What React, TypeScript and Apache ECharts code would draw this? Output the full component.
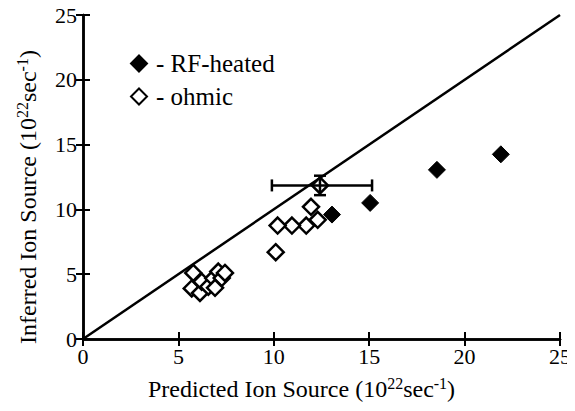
import React, { useEffect, useRef } from "react";
import * as echarts from "echarts";

const rfHeated: [number, number][] = [
  [13.05, 9.6],
  [15.05, 10.5],
  [18.55, 13.05],
  [21.9, 14.25],
];

const ohmic: [number, number][] = [
  [12.42, 11.85],
  [11.95, 10.2],
  [12.3, 9.2],
  [11.7, 8.75],
  [10.95, 8.75],
  [10.2, 8.75],
  [10.1, 6.7],
  [5.78, 5.1],
  [5.7, 3.9],
  [6.13, 3.55],
  [6.22, 4.42],
  [6.57, 4.04],
  [6.83, 4.68],
  [7.09, 5.2],
  [7.27, 4.7],
  [7.44, 5.1],
  [6.92, 3.95],
];

// error bar: [x, y, xLow, xHigh, yLow, yHigh]
const errorBars: number[][] = [[12.42, 11.85, 9.9, 15.15, 11.1, 12.6]];

const diagonal: [number, number][] = [
  [0, 0],
  [25, 25],
];

const ticks = [0, 5, 10, 15, 20, 25];

const FONT = "'Liberation Serif', 'Times New Roman', serif";

export default function App() {
  const ref = useRef<HTMLDivElement>(null);
  useEffect(() => {
    if (!ref.current) return;
    const chart = echarts.init(ref.current, undefined, { renderer: "svg" });
    const axisLine = { show: true, lineStyle: { color: "#000", width: 2.5 } };
    const axisTick = { show: true, inside: true, length: 7, lineStyle: { color: "#000", width: 2 } };
    const rich = {
      a: { fontFamily: FONT, fontSize: 24, color: "#000" },
      sup: { fontFamily: FONT, fontSize: 16, color: "#000", padding: [0, 0, 12, 0] },
    };
    const tickRich = { t: { fontFamily: FONT, fontSize: 22, color: "#000" } };
    chart.setOption({
      animation: false,
      backgroundColor: "#fff",
      grid: { left: 83, right: 15, top: 15, bottom: 72, containLabel: false },
      xAxis: [
        {
          type: "value",
          min: ticks[0],
          max: ticks[ticks.length - 1],
          interval: 5,
          axisLine,
          axisTick,
          splitLine: { show: false },
          axisLabel: {
            fontFamily: FONT,
            fontSize: 22,
            color: "#000",
            margin: 6,
            formatter: (v: number) => `{t|${v}}`,
            rich: tickRich,
          },
          name: "{a|Predicted Ion Source (10}{sup|22}{a|sec}{sup|-1}{a|)}",
          nameLocation: "middle",
          nameGap: 36,
          nameTextStyle: { rich, padding: [0, 40, 0, 0] },
        },
        {
          type: "value",
          position: "top",
          min: 0,
          max: 25,
          interval: 5,
          axisLine,
          axisTick,
          splitLine: { show: false },
          axisLabel: { show: false },
        },
      ],
      yAxis: [
        {
          type: "value",
          min: ticks[0],
          max: ticks[ticks.length - 1],
          interval: 5,
          axisLine,
          axisTick,
          splitLine: { show: false },
          axisLabel: {
            fontFamily: FONT,
            fontSize: 22,
            color: "#000",
            margin: 6,
            formatter: (v: number) => `{t|${v}}`,
            rich: tickRich,
          },
          name: "{a|Inferred Ion Source (10}{sup|22}{a|sec}{sup|-1}{a|)}",
          nameLocation: "middle",
          nameGap: 41,
          nameRotate: 90,
          nameTextStyle: { rich, padding: [0, 40, 0, 0] },
        },
        {
          type: "value",
          position: "right",
          min: 0,
          max: 25,
          interval: 5,
          axisLine,
          axisTick,
          splitLine: { show: false },
          axisLabel: { show: false },
        },
      ],
      legend: {
        orient: "vertical",
        left: 125,
        top: 46,
        itemWidth: 16,
        itemHeight: 16,
        itemGap: 8,
        formatter: "- {name}",
        textStyle: { fontFamily: FONT, fontSize: 25, color: "#000", padding: [0, 0, 0, 4] },
        data: [
          { name: "RF-heated", icon: "diamond" },
          { name: "ohmic", icon: "diamond" },
        ],
      },
      series: [
        {
          type: "line",
          data: diagonal,
          symbol: "none",
          lineStyle: { color: "#000", width: 2.5 },
          z: 1,
        },
        {
          name: "ohmic",
          type: "scatter",
          data: ohmic,
          symbol: "diamond",
          symbolSize: 16,
          itemStyle: { color: "#fff", borderColor: "#000", borderWidth: 2.5, opacity: 1 },
          z: 2,
        },
        {
          name: "RF-heated",
          type: "scatter",
          data: rfHeated,
          symbol: "diamond",
          symbolSize: 17,
          itemStyle: { color: "#000", borderColor: "#000", borderWidth: 1, opacity: 1 },
          z: 3,
        },
        {
          type: "custom",
          z: 4,
          data: errorBars,
          renderItem: (params: any, api: any) => {
            const x = api.value(0);
            const y = api.value(1);
            const xl = api.coord([api.value(2), y]);
            const xh = api.coord([api.value(3), y]);
            const yl = api.coord([x, api.value(4)]);
            const yh = api.coord([x, api.value(5)]);
            const cap = 6;
            const style = { stroke: "#000", lineWidth: 2.5 };
            return {
              type: "group",
              children: [
                { type: "line", shape: { x1: xl[0], y1: xl[1], x2: xh[0], y2: xh[1] }, style },
                { type: "line", shape: { x1: xl[0], y1: xl[1] - cap, x2: xl[0], y2: xl[1] + cap }, style },
                { type: "line", shape: { x1: xh[0], y1: xh[1] - cap, x2: xh[0], y2: xh[1] + cap }, style },
                { type: "line", shape: { x1: yl[0], y1: yl[1], x2: yh[0], y2: yh[1] }, style },
                { type: "line", shape: { x1: yl[0] - cap, y1: yl[1], x2: yl[0] + cap, y2: yl[1] }, style },
                { type: "line", shape: { x1: yh[0] - cap, y1: yh[1], x2: yh[0] + cap, y2: yh[1] }, style },
              ],
            };
          },
        },
      ],
    });
    return () => chart.dispose();
  }, []);
  return <div ref={ref} style={{ width: 575, height: 411, margin: -8 }} />;
}
